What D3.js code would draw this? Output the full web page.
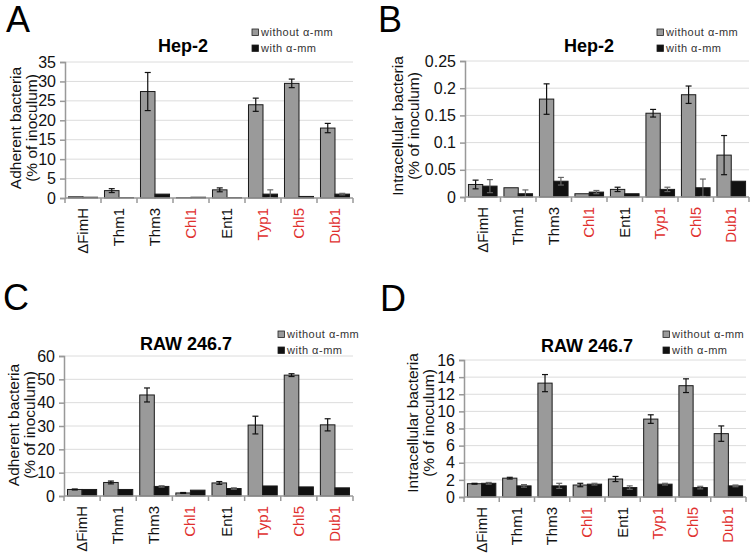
<!DOCTYPE html>
<html><head><meta charset="utf-8">
<script src="https://cdn.jsdelivr.net/npm/d3@7/dist/d3.min.js"></script>
<style>body{margin:0;background:#fff}svg{display:block}</style>
</head><body>
<svg id="chart" width="754" height="556"></svg>
<script>
const categories = ["\u0394FimH","Thm1","Thm3","Chl1","Ent1","Typ1","Chl5","Dub1"];
const redCategories = ["Chl1","Typ1","Chl5","Dub1"];
const seriesNames = ["without \u03b1-mm","with \u03b1-mm"];

// Panel A: Hep-2 adherent
const aWithout = [0.3,1.9,27.4,0.1,2.1,24.0,29.5,18.0];
const aWithoutErr = [0,0.5,4.9,0,0.5,1.7,1.1,1.2];
const aWith = [0.2,0.1,1.0,0.2,0.1,1.0,0.4,1.0];
const aWithErr = [0,0,0,0,0,1.1,0,0.2];
const aTicks = [0,5,10,15,20,25,30,35];

// Panel B: Hep-2 intracellular
const bWithout = [0.023,0.017,0.180,0.006,0.014,0.154,0.188,0.077];
const bWithoutErr = [0.008,0,0.028,0,0.004,0.007,0.016,0.036];
const bWith = [0.020,0.006,0.029,0.009,0.006,0.014,0.017,0.029];
const bWithErr = [0.012,0.007,0.007,0.003,0,0.004,0.016,0];
const bTicks = [0,0.05,0.1,0.15,0.2,0.25];

// Panel C: RAW 246.7 adherent
const cWithout = [2.8,5.8,43.3,1.3,5.6,30.4,51.8,30.5];
const cWithoutErr = [0.2,0.6,3.0,0.2,0.6,3.8,0.6,2.6];
const cWith = [2.8,2.8,4.1,2.5,3.2,4.3,3.9,3.5];
const cWithErr = [0,0,0.3,0,0.3,0,0,0];
const cTicks = [0,10,20,30,40,50,60];

// Panel D: RAW 246.7 intracellular
const dWithout = [1.55,2.2,13.3,1.4,2.1,9.1,13.0,7.4];
const dWithoutErr = [0.05,0.1,1.0,0.2,0.3,0.5,0.8,0.9];
const dWith = [1.6,1.3,1.3,1.5,1.1,1.5,1.1,1.3];
const dWithErr = [0.1,0.15,0.3,0.1,0.2,0.1,0.15,0.1];
const dTicks = [0,2,4,6,8,10,12,14,16];

const FONT = "'Liberation Sans', Arial, Helvetica, sans-serif";
const GRAY = "#9a9a9a", BLACK = "#111111", RED = "#e0302e";
const svg = d3.select("#chart");

const panels = [
  {letter:"A", lx:6, ly:32, title:"Hep-2", tx:183, ty:52, ylabel:["Adherent bacteria","(% of inoculum)"], ylx:[15,31], yly:128,
   x0:65, x1:353, yTop:62, y0:198, ticks:aTicks, fmt:d3.format("d"),
   s:[[aWithout,aWithoutErr],[aWith,aWithErr]], leg:{x:252, y:29}},
  {letter:"B", lx:378, ly:32, title:"Hep-2", tx:589, ty:52, ylabel:["Intracellular bacteria","(% of inoculum)"], ylx:[397,413], yly:126,
   x0:465, x1:749, yTop:61, y0:197, ticks:bTicks, fmt:v=>v===0?"0":String(+v.toFixed(2)),
   s:[[bWithout,bWithoutErr],[bWith,bWithErr]], leg:{x:657, y:29}},
  {letter:"C", lx:3, ly:310, title:"RAW 246.7", tx:186, ty:350, ylabel:["Adherent bacteria","(% of inoculum)"], ylx:[13,29], yly:425,
   x0:64, x1:353, yTop:356, y0:496, ticks:cTicks, fmt:d3.format("d"),
   s:[[cWithout,cWithoutErr],[cWith,cWithErr]], leg:{x:278, y:331}},
  {letter:"D", lx:380, ly:311, title:"RAW 246.7", tx:587, ty:352, ylabel:["Intracellular bacteria","(% of inoculum)"], ylx:[412,428], yly:423,
   x0:464, x1:746, yTop:360, y0:497, ticks:dTicks, fmt:d3.format("d"),
   s:[[dWithout,dWithoutErr],[dWith,dWithErr]], leg:{x:663, y:331}}
];

panels.forEach(p => {
  const g = svg.append("g");
  const x = d3.scaleBand().domain(categories).range([p.x0, p.x1]).padding(0);
  const xs = d3.scaleBand().domain([0,1]).range([0, x.bandwidth()]).paddingInner(0).paddingOuter(0.24);
  const y = d3.scaleLinear().domain([0, p.ticks[p.ticks.length-1]]).range([p.y0, p.yTop]);

  g.append("text").attr("x", p.lx).attr("y", p.ly).attr("font-family", FONT).attr("font-size", 36).text(p.letter);
  g.append("text").attr("x", p.tx).attr("y", p.ty).attr("text-anchor","middle").attr("font-family", FONT)
    .attr("font-weight","bold").attr("font-size", 18).text(p.title);

  g.append("g").selectAll("line").data(p.ticks.filter(t => t > 0)).join("line")
    .attr("x1", p.x0).attr("x2", p.x1).attr("y1", d => y(d)).attr("y2", d => y(d))
    .attr("stroke", "#dcdcdc").attr("stroke-width", 1);

  const ya = g.append("g").attr("transform", `translate(${p.x0},0)`)
    .call(d3.axisLeft(y).tickValues(p.ticks).tickFormat(p.fmt).tickSize(5).tickPadding(4));
  ya.select(".domain").attr("stroke", "#999").attr("stroke-width", 1.5);
  ya.selectAll(".tick line").attr("stroke", "#999").attr("stroke-width", 1.5);
  ya.selectAll("text").attr("font-family", FONT).attr("font-size", 16).attr("fill", "#111");

  p.ylabel.forEach((t, i) => {
    g.append("text").attr("transform", `translate(${p.ylx[i]},${p.yly}) rotate(-90)`)
      .attr("text-anchor","middle").attr("dominant-baseline","central")
      .attr("font-family", FONT).attr("font-size", 15.5).attr("fill","#111").text(t);
  });

  p.s.forEach((ser, si) => {
    const [vals, errs] = ser;
    g.append("g").selectAll("rect").data(categories).join("rect")
      .attr("x", d => x(d) + xs(si)).attr("width", xs.bandwidth())
      .attr("y", (d, i) => y(vals[i])).attr("height", (d, i) => y(0) - y(vals[i]))
      .attr("fill", si === 0 ? GRAY : BLACK).attr("stroke", "#1a1a1a").attr("stroke-width", 1);
    const eg = g.append("g");
    categories.forEach((cat, i) => {
      if (!errs[i]) return;
      const cx = x(cat) + xs(si) + xs.bandwidth()/2;
      const yt = y(vals[i] + errs[i]), yb = y(Math.max(0, vals[i] - errs[i]));
      const col = si === 1 ? "#666" : "#111";
      eg.append("line").attr("x1", cx).attr("x2", cx).attr("y1", yt).attr("y2", yb).attr("stroke", col).attr("stroke-width", 1.2);
      [yt, yb].forEach(yy => eg.append("line").attr("x1", cx-3).attr("x2", cx+3).attr("y1", yy).attr("y2", yy).attr("stroke", col).attr("stroke-width", 1.2));
    });
  });

  const bounds = categories.map(d => x(d)).concat([p.x1]);
  g.append("line").attr("x1", p.x0).attr("x2", p.x1).attr("y1", p.y0).attr("y2", p.y0).attr("stroke", "#999").attr("stroke-width", 1.5);
  g.append("g").selectAll("line").data(bounds).join("line")
    .attr("x1", d => d).attr("x2", d => d).attr("y1", p.y0).attr("y2", p.y0 + 5)
    .attr("stroke", "#999").attr("stroke-width", 1.5);

  g.append("g").selectAll("text").data(categories).join("text")
    .attr("transform", d => `translate(${x(d) + x.bandwidth()/2 + 5},${p.y0 + 10}) rotate(-90)`)
    .attr("text-anchor","end").attr("font-family", FONT).attr("font-size", 15)
    .attr("fill", d => redCategories.includes(d) ? RED : "#111").text(d => d);

  seriesNames.forEach((n, i) => {
    const ly = p.leg.y + i*16;
    g.append("rect").attr("x", p.leg.x).attr("y", ly).attr("width", 6.5).attr("height", 6.5)
      .attr("fill", i===0 ? GRAY : BLACK).attr("stroke", "#222").attr("stroke-width", 0.8);
    g.append("text").attr("x", p.leg.x + 9).attr("y", ly + 7).attr("font-family", FONT)
      .attr("font-size", 11).attr("letter-spacing", 0.5).attr("fill", "#333").text(n);
  });
});
</script>
</body></html>
